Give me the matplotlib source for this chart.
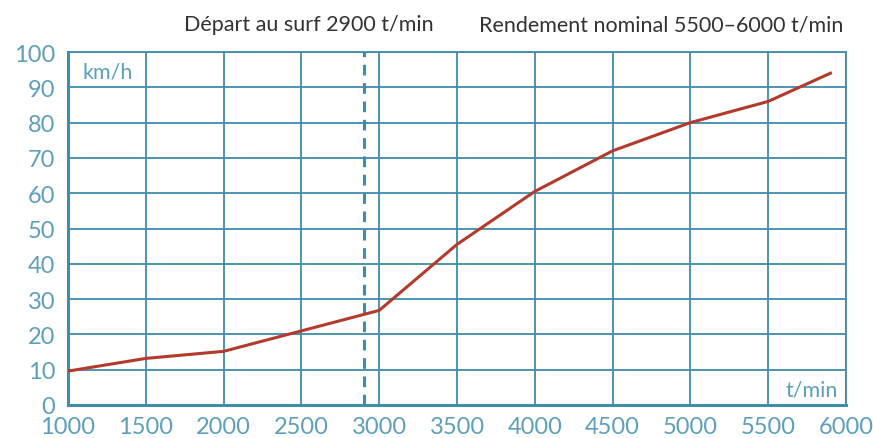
import numpy as np
import matplotlib.pyplot as plt

# vitesse vs régime moteur
rpm = [1000, 1500, 2000, 2500, 3000, 3500, 4000, 4500, 5000, 5500, 5900]
speed = [9.6, 13.2, 15.2, 21.0, 26.8, 45.5, 60.5, 72.0, 80.0, 86.0, 94.0]
xticks = [1000, 1500, 2000, 2500, 3000, 3500, 4000, 4500, 5000, 5500, 6000]
yticks = [0, 10, 20, 30, 40, 50, 60, 70, 80, 90, 100]
surf_rpm = 2900

grid_col = '#3f8cab'
tick_col = '#5d9fbd'
line_col = '#b33a2d'

plt.rcParams['font.family'] = ['Lato', 'DejaVu Sans']

fig = plt.figure(figsize=(8.73, 4.39), dpi=100)
ax = fig.add_axes([68 / 873, 33 / 439, 778 / 873, 353 / 439])

ax.plot(rpm, speed, color=line_col, lw=2.2, zorder=3)
ax.axvline(surf_rpm, color=grid_col, lw=2.2, ls=(0, (3.5, 2.5)), zorder=2)

ax.set_xlim(1000, 6000)
ax.set_ylim(0, 100)
ax.set_xticks(xticks)
ax.set_yticks(yticks)
ax.grid(True, color=grid_col, lw=1.3)
ax.tick_params(length=0, labelsize=17, colors=tick_col)
ax.tick_params(axis='x', pad=8)
ax.tick_params(axis='y', pad=9)
for s in ax.spines.values():
    s.set_color(grid_col)
    s.set_linewidth(1.3)
ax.spines['bottom'].set_linewidth(2.2)
ax.spines['left'].set_linewidth(2.2)

ax.text(1090, 94.5, 'km/h', color=tick_col, fontsize=15.5, ha='left', va='center')
ax.text(5950, 4.5, 't/min', color=tick_col, fontsize=15.5, ha='right', va='center')

fig.text(309 / 873, 1 - 25 / 439, 'Départ au surf 2900 t/min', color='#333333',
         fontsize=15.5, ha='center', va='center')
fig.text(661 / 873, 1 - 25 / 439, 'Rendement nominal 5500–6000 t/min', color='#333333',
         fontsize=15.5, ha='center', va='center')

fig.savefig('out.png', dpi=100)
